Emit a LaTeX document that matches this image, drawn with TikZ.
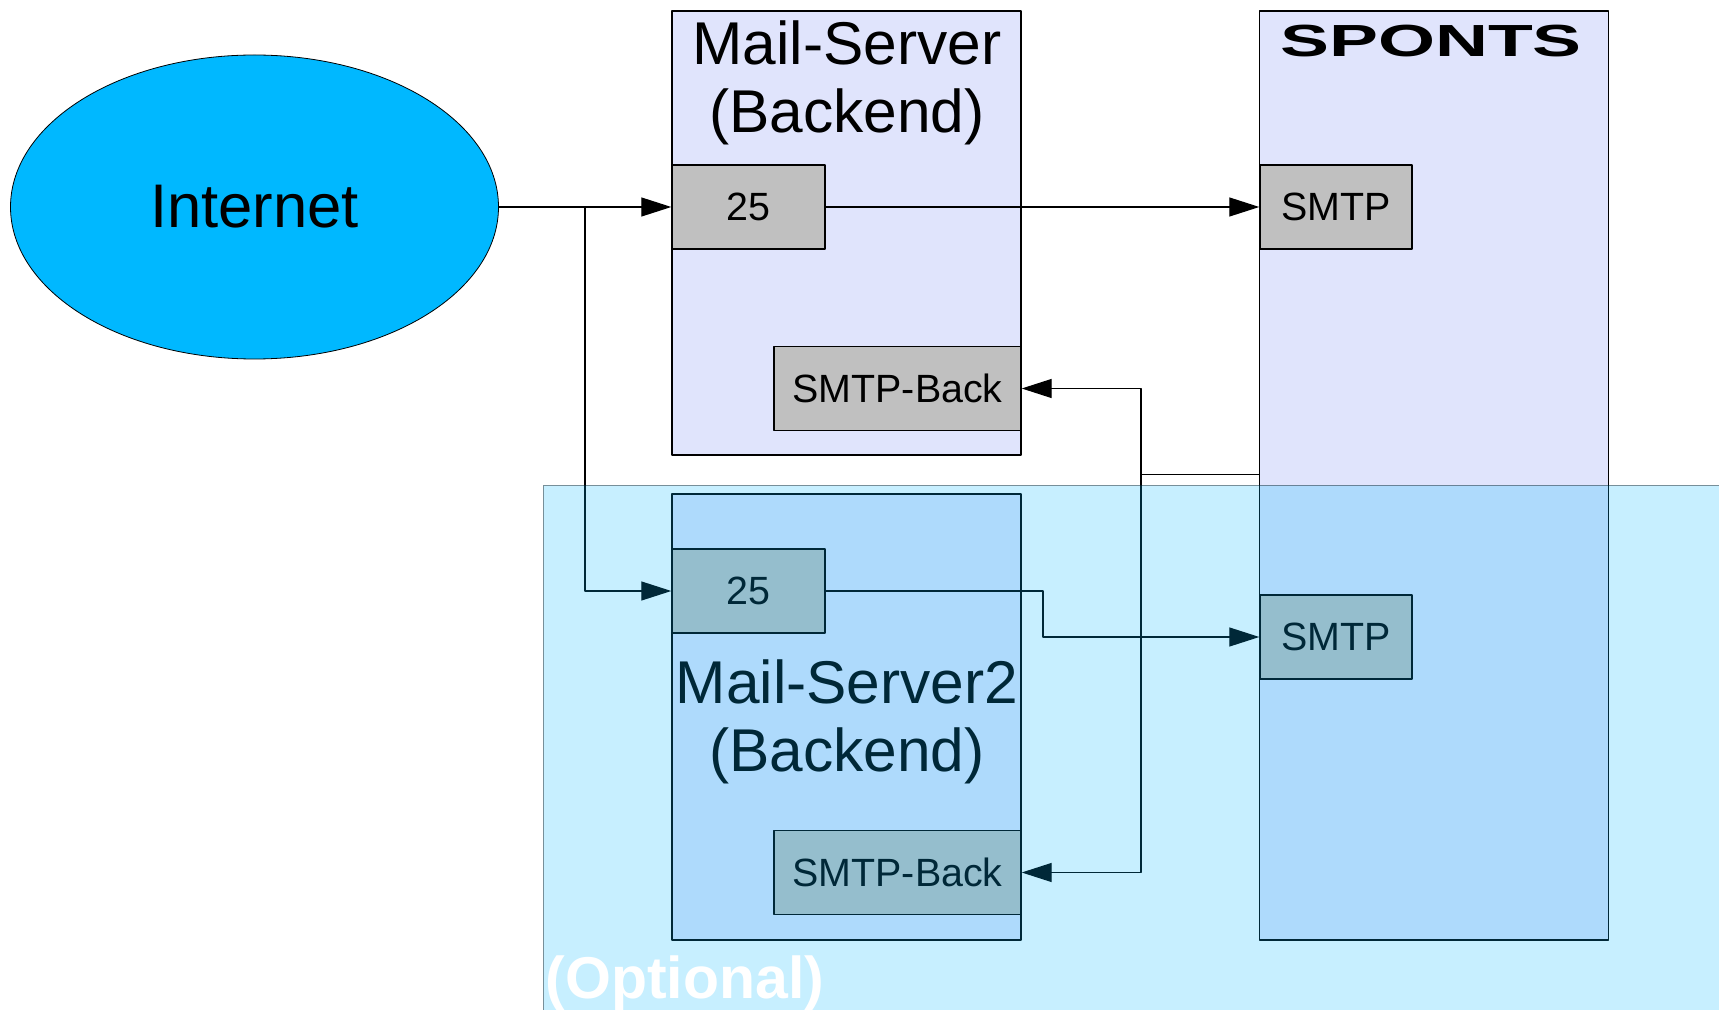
\documentclass[tikz,border=0pt]{standalone}
\usepackage{fontspec}
\setmainfont{Liberation Sans}
\usetikzlibrary{arrows.meta,shapes.geometric}
\definecolor{ccddff}{RGB}{224,228,252}
\definecolor{qqbbff}{RGB}{0,184,255}
\definecolor{bbbbbb}{RGB}{192,192,192}
\tikzset{
	srvbox/.style={draw=black,line width=0.7pt,fill=ccddff,inner sep=0pt,minimum width=174.5pt},
	portbox/.style={draw=black,line width=0.7pt,fill=bbbbbb,inner sep=0pt,minimum height=42pt,font=\fontsize{19.7}{24}\selectfont},
	srvtitle/.style={align=center,inner sep=0pt,font=\fontsize{30.2}{34}\selectfont},
	link/.style={draw=black,line width=0.6pt},
	arr/.style={link,-{Triangle[length=15pt,width=9.5pt]}}
}

\begin{document}
\begin{tikzpicture}[line cap=round,line join=round,x=0.5pt,y=-0.5pt]
	\clip (0,0) rectangle (1719,1010);
	\useasboundingbox (0,0) rectangle (1719,1010);
	\fill [white] (0,0) rectangle (1719,1010);
	\node [draw=black,fill=qqbbff,ellipse,inner sep=0pt,minimum width=244pt,minimum height=152pt,font=\fontsize{30.8}{36}\selectfont] (internet) at (254.5,207) {Internet};
	% servers
	\node [srvbox,minimum height=222pt] (mail1) at (846.5,233) {};
	\node [srvbox,minimum height=223pt] (mail2) at (846.5,717) {};
	\node [srvbox,minimum height=464.5pt] (sponts) at (1434,475.5) {};
	\node [srvtitle] (title1) at (847,83) {Mail-Server\\(Backend)};
	\node [srvtitle] (title2) at (847,722) {Mail-Server2\\(Backend)};
	\node [inner sep=0pt,font=\fontsize{22.5}{28}\selectfont\bfseries] (spontstitle) at (1431,41.5) {\scalebox{1.63}[1]{SPONTS}};
	% ports
	\node [portbox,minimum width=76.5pt] (port1) at (748.5,207) {25};
	\node [portbox,minimum width=76.5pt] (port2) at (748.5,591) {25};
	\node [portbox,minimum width=76pt] (smtp1) at (1336,207) {SMTP};
	\node [portbox,minimum width=76pt] (smtp2) at (1336,637) {SMTP};
	\node [portbox,minimum width=123.5pt] (back1) at (897.5,388.5) {SMTP-Back};
	\node [portbox,minimum width=123.5pt] (back2) at (897.5,872.5) {SMTP-Back};
	% links
	\coordinate (branch) at (585,207);
	\coordinate (bus) at (1141,474.5);
	\coordinate (mid1) at (1043,591);
	\draw [arr] (internet.east) -- (port1.west);
	\draw [arr] (branch) |- (port2.west);
	\draw [arr] (port1.east) -- (smtp1.west);
	\draw [arr] (port2.east) -- (mid1) |- (smtp2.west);
	\draw [link] (sponts.west |- bus) -- (bus);
	\draw [arr] (bus) |- (back1.east);
	\draw [arr] (bus) |- (back2.east);
	% optional area
	\fill [qqbbff,fill opacity=0.22] (543,485) rectangle (1730,1020);
	\draw [black,opacity=0.4] (1730,485) -- (543,485) -- (543,1020);
	\node [inner sep=0pt,text=white,font=\fontsize{29.5}{34}\selectfont\bfseries] (optional) at (685,983) {(Optional)};
\end{tikzpicture}
\end{document}
